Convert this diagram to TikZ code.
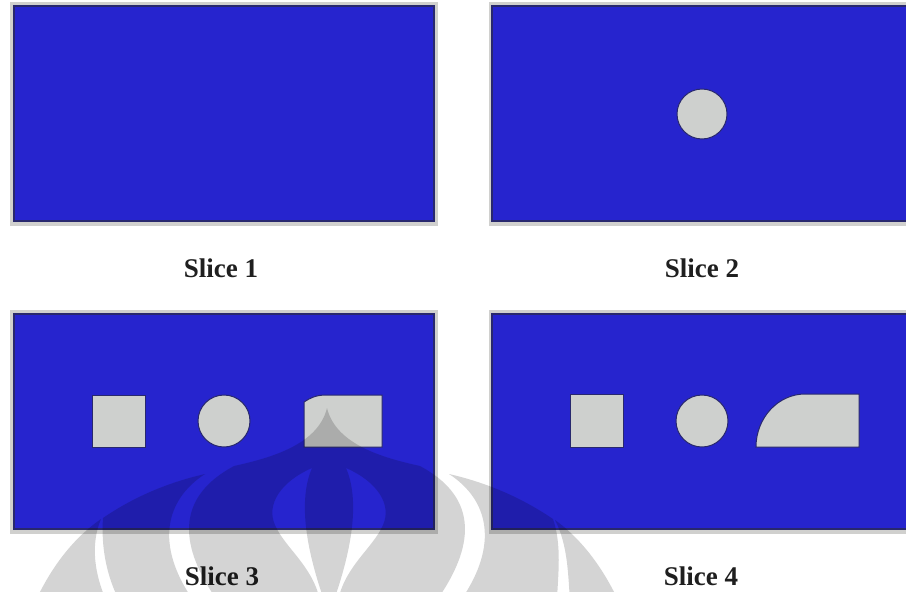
\documentclass[tikz,border=0pt]{standalone}
\usepackage{fontspec}
\setmainfont{Liberation Serif}
\definecolor{slblue}{RGB}{38,36,206}
\definecolor{slframe}{RGB}{208,208,206}
\definecolor{sledge}{RGB}{40,40,110}
\definecolor{slshape}{RGB}{206,208,206}
\tikzset{
  frame/.style={fill=slframe},
  field/.style={fill=slblue, draw=sledge, line width=1.3pt},
  part/.style={fill=slshape, draw=sledge, line width=1pt},
  caption/.style={anchor=base, font=\fontsize{27}{30}\selectfont\bfseries, text=black!88, inner sep=0pt},
  wmark/.style={fill=black, opacity=0.17, even odd rule}
}
\begin{document}
\begin{tikzpicture}[x=1pt,y=-1pt]
\useasboundingbox (0,0) rectangle (906,592);
% Slice 1
\fill[frame] (10,2) rectangle (438,226);
\draw[field] (14,6) rectangle (434,221);
% Slice 2
\fill[frame] (489,2) rectangle (910,226);
\draw[field] (492,6) rectangle (910,221);
\draw[part] (702,114) circle (25);
% Slice 3
\fill[frame] (10,310) rectangle (438,534);
\draw[field] (14,314) rectangle (434,529);
\draw[part] (92,395) rectangle (145,447);
\draw[part] (224,421) circle (26);
\draw[part] (304,447) -- (304,402) .. controls (310,398) and (316,395) .. (326,395) -- (382,395) -- (382,447) -- cycle;
% Slice 4
\fill[frame] (489,310) rectangle (910,534);
\draw[field] (492,314) rectangle (910,529);
\draw[part] (570,394) rectangle (623,447);
\draw[part] (702,421) circle (26);
\draw[part] (756,447) .. controls (756,418) and (778,394) .. (805,394) -- (859,394) -- (859,447) -- cycle;
% captions
\node[caption] (c1) at (221,277) {Slice 1};
\node[caption] (c2) at (702,277) {Slice 2};
\node[caption] (c3) at (222,585) {Slice 3};
\node[caption] (c4) at (701,585) {Slice 4};
% watermark
\begin{scope}
\clip (0,0) rectangle (906,592);
% outer left wing
\fill[wmark] (36,600) .. controls (55,560) and (78,535) .. (101,519)
  .. controls (90,545) and (95,575) .. (106,600) -- cycle;
% second left wing
\fill[wmark] (119,600) .. controls (106,575) and (101,545) .. (103,518)
  .. controls (135,496) and (170,482) .. (205,474)
  .. controls (165,500) and (155,545) .. (193,600) -- cycle;
% central dome with two inner gaps
\fill[wmark] (217,600) .. controls (175,540) and (180,495) .. (234,466)
  .. controls (270,458) and (318,445) .. (327,408)
  .. controls (336,445) and (384,458) .. (420,466)
  .. controls (474,495) and (479,540) .. (437,600) -- cycle
  (312,468) .. controls (280,482) and (266,505) .. (275,525)
  .. controls (285,548) and (312,565) .. (320,600) -- (324,600)
  .. controls (310,560) and (296,505) .. (312,468) -- cycle
  (346,468) .. controls (378,482) and (392,505) .. (383,525)
  .. controls (373,548) and (346,565) .. (338,600) -- (334,600)
  .. controls (348,560) and (362,505) .. (346,468) -- cycle;
% second right wing
\fill[wmark] (461,600) .. controls (499,545) and (489,500) .. (449,474)
  .. controls (484,482) and (519,496) .. (553,519)
  .. controls (562,545) and (558,575) .. (557,600) -- cycle;
% outer right wing
\fill[wmark] (570,600) .. controls (568,575) and (568,545) .. (555,520)
  .. controls (576,535) and (599,560) .. (618,600) -- cycle;
\end{scope}
\end{tikzpicture}
\end{document}
